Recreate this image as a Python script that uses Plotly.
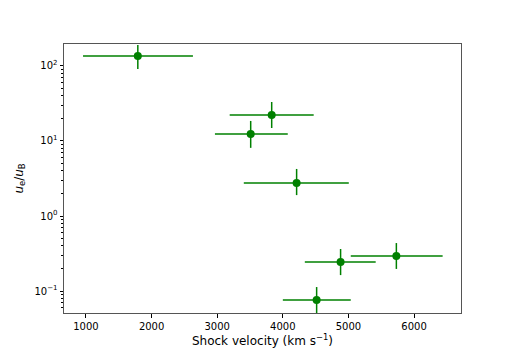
import plotly.graph_objects as go

# shock velocity (km/s) and horizontal error extent
velocity = [1790, 3830, 3510, 4210, 4880, 5730, 4515]
vel_lo = [955, 3190, 2965, 3405, 4335, 5035, 4000]
vel_hi = [2630, 4470, 4075, 5005, 5415, 6435, 5035]

# energy ratio u_e/u_B and vertical error extent
ratio = [136, 22.2, 12.4, 2.75, 0.244, 0.293, 0.0759]
ratio_lo = [91, 14.9, 8.1, 1.9, 0.163, 0.197, 0.045]
ratio_hi = [190, 33.1, 18.5, 4.24, 0.363, 0.436, 0.113]

green = '#008000'

fig = go.Figure(go.Scatter(
    x=velocity, y=ratio,
    mode='markers',
    marker=dict(color=green, size=8),
    error_x=dict(type='data', symmetric=False,
                 array=[h - v for h, v in zip(vel_hi, velocity)],
                 arrayminus=[v - l for l, v in zip(vel_lo, velocity)],
                 color=green, thickness=1.5, width=0),
    error_y=dict(type='data', symmetric=False,
                 array=[h - r for h, r in zip(ratio_hi, ratio)],
                 arrayminus=[r - l for l, r in zip(ratio_lo, ratio)],
                 color=green, thickness=1.5, width=0),
    showlegend=False,
))

# page body adds an offset, so the figure is a little smaller
fig.update_layout(
    width=504, height=344,
    margin=dict(l=56, r=51, t=36, b=39),
    paper_bgcolor='white', plot_bgcolor='white',
    font=dict(family='DejaVu Sans', size=10, color='black'),
)

fig.update_xaxes(
    range=[665, 6715], automargin=False,
    tickvals=[1000, 2000, 3000, 4000, 5000, 6000],
    ticks='outside', ticklen=3.5, tickcolor='black',
    showline=True, linecolor='#555', linewidth=1, mirror=True,
    showgrid=False, zeroline=False,
    title=dict(text='Shock velocity (km s<sup>−1</sup>)', font=dict(size=12), standoff=6),
)

fig.update_yaxes(
    type='log', automargin=False,
    range=[-1.293, 2.293],
    tickvals=[0.1, 1, 10, 100],
    ticktext=['10<sup>−1</sup>', '10<sup>0</sup>', '10<sup>1</sup>', '10<sup>2</sup>'],
    ticks='outside', ticklen=3.5, tickcolor='black',
    minor=dict(ticks='outside', ticklen=2, tickcolor='black',
               tickvals=[m * 10 ** e for e in range(-2, 3) for m in range(2, 10)]),
    showline=True, linecolor='#555', linewidth=1, mirror=True,
    showgrid=False, zeroline=False,
    title=dict(text='<i>u</i><sub>e</sub>/<i>u</i><sub>B</sub>', font=dict(size=12), standoff=8),
)

fig.write_html('out.html')
